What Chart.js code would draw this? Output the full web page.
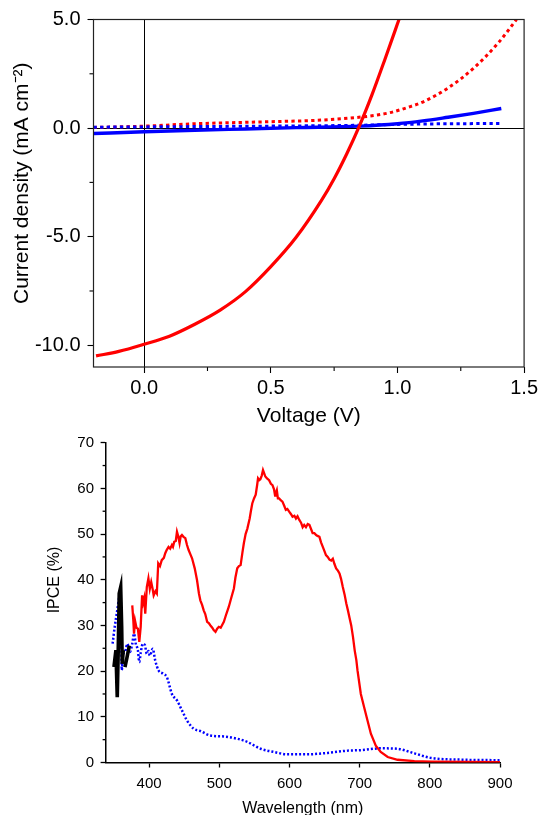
<!DOCTYPE html>
<html><head><meta charset="utf-8">
<script src="https://cdn.jsdelivr.net/npm/chart.js@4.4.1/dist/chart.umd.min.js"></script>
<style>
html,body{margin:0;padding:0;background:#fff;overflow:hidden;width:541px;height:815px;}
canvas{position:absolute;left:0;}
#jv{top:0;}
#ipce{top:425px;}
</style></head><body>
<canvas id="jv" width="541" height="440"></canvas>
<canvas id="ipce" width="541" height="410"></canvas>
<script>
const FONT = "'Liberation Sans', Arial, Helvetica, sans-serif";

// ---------- J-V curves (Voltage in V, current density in mA cm^-2) ----------
const jvRedSolidV = [-0.19, -0.1, 0, 0.1, 0.2, 0.3, 0.4, 0.5, 0.6, 0.7, 0.75, 0.8, 0.85, 0.9, 0.95, 1.0, 1.006];
const jvRedSolidJ = [-10.49, -10.28, -9.95, -9.58, -9.03, -8.38, -7.53, -6.38, -5.03, -3.33, -2.33, -1.18, 0.1, 1.55, 3.15, 4.8, 5.0];
const jvRedDotV = [-0.2, 0, 0.2, 0.45, 0.7, 0.84, 0.92, 0.97, 1.04, 1.1, 1.2, 1.3, 1.4, 1.47];
const jvRedDotJ = [0.03, 0.09, 0.2, 0.28, 0.37, 0.49, 0.6, 0.71, 0.95, 1.2, 1.85, 2.75, 3.95, 5.0];
const jvBlueSolidV = [-0.2, 0, 0.2, 0.4, 0.6, 0.85, 1.0, 1.1, 1.2, 1.3, 1.41];
const jvBlueSolidJ = [-0.25, -0.17, -0.1, -0.04, 0.02, 0.09, 0.2, 0.33, 0.5, 0.68, 0.9];
const jvBlueDotV = [-0.2, 0.2, 0.6, 0.85, 1.0, 1.2, 1.41];
const jvBlueDotJ = [0.04, 0.07, 0.1, 0.13, 0.17, 0.2, 0.21];

const jvXTicks = [0, 0.5, 1.0, 1.5];
const jvXMinor = [0.25, 0.75, 1.25];
const jvYTicks = [-10, -5, 0, 5];
const jvYMinor = [-7.5, -2.5, 2.5];

// ---------- IPCE spectra (wavelength nm, IPCE %) ----------
const ipceRedNm = [376,377.5,378.5,380,382,384,386,388,390,391.5,393,394.5,396.7,399,401,403,405,406.5,409,411,413,415.5,418,421,423,425,427.7,430,432.5,434,435.8,438,439.7,441.5,443.4,445,446.8,449,451.6,454,456.3,459,461.2,465,468.3,471,473,475.5,477.8,480,482.7,485,487.4,490,492,494.6,497,499.3,502,506.5,510,513.6,517,520.8,523,525.6,528,530.4,533,535,537.5,540,543.3,545,547,549.5,551.9,554,555.2,557,558.5,560.5,562.3,564,565.6,568,571,573.5,575.8,578,579.5,580.5,582,583.5,585.3,587.5,590,592.5,594.8,597,599.6,602,604.4,607,609.2,611.5,614,616.5,618.8,621,623.5,626,628.4,631,633,635.5,638,640,642.7,645,647.5,650,652,654.5,657,659.5,661.8,664,666.5,669,671.3,673.5,676,678.5,681,683.3,685.8,688,690.5,693,695.3,697,701.7,706.4,711.2,716,723,730,740,754,778,802,850,900];
const ipceRedVal = [34.4,31.1,28.2,31,29.5,29.3,26.4,29.7,36.6,35,36,32.6,38.4,40.3,38,39.5,38,36.6,37.5,37,43.6,43,44.3,44.8,45.8,46.5,47.2,46.8,47.6,47.2,48.3,48.5,50.5,49.5,48,49.5,49.8,49.4,49.1,47.6,46.5,45.5,44.7,42.5,39.9,37,35.5,34.5,33.3,32.5,30.8,30.5,30,29.5,29,28.6,29.3,29.7,29.5,30.8,32.5,34.1,36,38.1,40.5,42.5,43,43.2,46,48,50,51.2,53.4,55,56.7,57.8,58.6,60.8,62.2,61.8,62,62.8,64,63.3,62.6,62.2,61.8,61,60.7,59.8,58.4,58.9,59.6,57.8,57.8,57.4,57.1,56.2,55.3,55.5,54.9,54.4,53.8,54,53.4,53.9,53.1,52.5,51.5,52,51.5,52.2,52,51,50.2,50.2,49.8,49.6,49.4,48.2,47.2,46.2,45.4,45,44.4,44.2,44.6,43.5,42.5,42,41.4,40.2,38.4,36.8,34.8,33.3,31.5,30,27.5,24.5,22.4,20.1,15,12.1,9.2,6.3,3.7,2.3,1.2,0.6,0.3,0.2,0.15,0.1];

const ipceBlueNm = [348,351,354.6,357.5,359,360,361,363,365,367,369,371,372.8,376,378.5,381,384,386,388,391,394,396.7,399,401,405.3,408.6,413.3,420.5,425.3,432.5,439.7,446.8,454,463.5,473,487.4,506.5,525.6,540,559,578,597,626,654.6,683.3,701.5,730,754,778,802,850,900];
const ipceBlueVal = [26,29.7,33.3,36.3,37,33,20.2,23.8,24,24.9,26,25,24.2,26,28.2,26,24.6,22,24,26,25.7,23.8,24.4,23.4,24.9,22.4,20.2,19.4,18.7,15,13.6,11.4,9.2,7.4,6.9,5.9,5.7,5.2,4.5,3.0,2.3,1.8,1.8,2.1,2.6,2.7,3.1,3.0,2.0,1.0,0.6,0.5];

const ipceBlackNm = [349.9,352.7,354.6,356,357.4,359.5,360.9,361.7,363.2,364.4,365.6,368.5,371.8];
const ipceBlackVal = [20.9,24.6,14.3,24.6,37,38.4,29.7,21.6,24.6,null,20.9,23,25.6];

const ipceXTicks = [400, 500, 600, 700, 800, 900];
const ipceYTicks = [0, 10, 20, 30, 40, 50, 60, 70];
const ipceYMinor = [5, 15, 25, 35, 45, 55, 65];

// ---------- helpers ----------
const pts = (xs, ys) => xs.map((x, i) => ({x: x, y: ys[i]}));
const setTicks = arr => (s => { s.ticks = arr.map(v => ({value: v})); });

const minorTicks = {
  id: 'minorTicks',
  afterDraw(chart, args, opts) {
    const ctx = chart.ctx, ca = chart.chartArea;
    ctx.save();
    ctx.strokeStyle = '#000';
    ctx.lineWidth = opts.width || 1;
    (opts.list || []).forEach(m => {
      const s = chart.scales[m.scale];
      m.values.forEach(v => {
        const p = s.getPixelForValue(v);
        ctx.beginPath();
        if (s.isHorizontal()) { ctx.moveTo(p, ca.bottom); ctx.lineTo(p, ca.bottom + m.len); }
        else { ctx.moveTo(ca.left, p); ctx.lineTo(ca.left - m.len, p); }
        ctx.stroke();
      });
    });
    ctx.restore();
  }
};

const frameBox = {
  id: 'frameBox',
  afterDraw(chart, args, opts) {
    if (!opts.show) return;
    const ctx = chart.ctx, ca = chart.chartArea;
    ctx.save();
    ctx.strokeStyle = opts.color || '#333';
    ctx.lineWidth = opts.width || 1.2;
    ctx.strokeRect(ca.left, ca.top, ca.right - ca.left, ca.bottom - ca.top);
    ctx.restore();
  }
};

const sideTitle = {
  id: 'sideTitle',
  afterDraw(chart, args, opts) {
    if (!opts.text) return;
    const ctx = chart.ctx, ca = chart.chartArea;
    ctx.save();
    ctx.font = opts.size + 'px ' + FONT;
    ctx.fillStyle = '#000';
    ctx.textAlign = 'center';
    ctx.textBaseline = 'middle';
    ctx.translate(ca.left - opts.dx, (ca.top + ca.bottom) / 2 + opts.dy);
    ctx.rotate(-Math.PI / 2);
    ctx.fillText(opts.text, 0, 0);
    ctx.restore();
  }
};

Chart.register(minorTicks, frameBox, sideTitle);

const zeroGrid = c => (c.tick && c.tick.value === 0) ? '#000' : 'rgba(0,0,0,0)';

// ---------- J-V chart ----------
new Chart(document.getElementById('jv'), {
  type: 'line',
  data: {
    datasets: [
      {data: pts(jvRedSolidV, jvRedSolidJ), borderColor: '#ff0000', borderWidth: 3.2, cubicInterpolationMode: 'monotone'},
      {data: pts(jvBlueSolidV, jvBlueSolidJ), borderColor: '#0000ff', borderWidth: 3.4, cubicInterpolationMode: 'monotone'},
      {data: pts(jvBlueDotV, jvBlueDotJ), borderColor: '#0000ff', borderWidth: 3, borderDash: [3.3, 3.3], cubicInterpolationMode: 'monotone'},
      {data: pts(jvRedDotV, jvRedDotJ), borderColor: '#ff0000', borderWidth: 3, borderDash: [3.3, 3.3], cubicInterpolationMode: 'monotone'}
    ]
  },
  options: {
    responsive: false, animation: false, devicePixelRatio: 1,
    layout: {padding: {top: 19.5, right: 16, left: 0, bottom: 0}},
    elements: {point: {radius: 0}, line: {borderCapStyle: 'butt'}},
    plugins: {
      legend: {display: false}, tooltip: {enabled: false},
      frameBox: {show: true, color: '#222', width: 1.2},
      minorTicks: {width: 1.1, list: [{scale: 'x', values: jvXMinor, len: 4}, {scale: 'y', values: jvYMinor, len: 4}]},
      sideTitle: {text: 'Current density (mA cm\u207B\u00B2)', size: 21, dx: 70.9, dy: -10}
    },
    scales: {
      x: {
        type: 'linear', min: -0.2, max: 1.5,
        afterBuildTicks: setTicks(jvXTicks),
        afterFit: s => { s.height = 73; },
        ticks: {callback: v => Number(v).toFixed(1), font: {family: FONT, size: 20}, color: '#000', padding: 3, maxRotation: 0, autoSkip: false},
        grid: {color: zeroGrid, lineWidth: 1, tickColor: '#000', tickLength: 6, tickWidth: 1.1},
        border: {display: false},
        title: {display: true, text: 'Voltage (V)', font: {family: FONT, size: 21}, color: '#000', padding: {top: 0, bottom: 11.5}}
      },
      y: {
        type: 'linear', min: -11, max: 5,
        afterBuildTicks: setTicks(jvYTicks),
        afterFit: s => { s.width = 93.5; },
        ticks: {callback: v => Number(v).toFixed(1), font: {family: FONT, size: 20}, color: '#000', padding: 7, autoSkip: false},
        grid: {color: zeroGrid, lineWidth: 1, tickColor: '#000', tickLength: 6, tickWidth: 1.1},
        border: {display: false},
        title: {display: false}
      }
    }
  }
});

// ---------- IPCE chart ----------
new Chart(document.getElementById('ipce'), {
  type: 'line',
  data: {
    datasets: [
      {data: pts(ipceBlackNm, ipceBlackVal), borderColor: '#000000', borderWidth: 3.6, spanGaps: false},
      {data: pts(ipceRedNm, ipceRedVal), borderColor: '#ff0000', borderWidth: 2.3},
      {data: pts(ipceBlueNm, ipceBlueVal), borderColor: '#0000ff', borderWidth: 2.5, borderDash: [2, 2], cubicInterpolationMode: 'monotone'}
    ]
  },
  options: {
    responsive: false, animation: false, devicePixelRatio: 1,
    layout: {padding: {top: 17.7, right: 41, left: 0, bottom: 0}},
    elements: {point: {radius: 0}, line: {borderCapStyle: 'butt', tension: 0}},
    plugins: {
      legend: {display: false}, tooltip: {enabled: false},
      frameBox: {show: false},
      minorTicks: {width: 1.3, list: [{scale: 'y', values: ipceYMinor, len: 3}]},
      sideTitle: {text: 'IPCE (%)', size: 16, dx: 50.6, dy: -22.6}
    },
    scales: {
      x: {
        type: 'linear', min: 338, max: 900,
        afterBuildTicks: setTicks(ipceXTicks),
        afterFit: s => { s.height = 72.5; },
        ticks: {callback: v => String(v), font: {family: FONT, size: 15}, color: '#000', padding: 7, maxRotation: 0, autoSkip: false},
        grid: {drawOnChartArea: false, tickColor: '#000', tickLength: 5, tickWidth: 1.3},
        border: {display: true, color: '#000', width: 1.5},
        title: {display: true, text: 'Wavelength (nm)', font: {family: FONT, size: 16}, color: '#000', padding: {top: 0, bottom: 16.4}}
      },
      y: {
        type: 'linear', min: 0, max: 70,
        afterBuildTicks: setTicks(ipceYTicks),
        afterFit: s => { s.width = 105.6; },
        ticks: {callback: v => String(v), font: {family: FONT, size: 15}, color: '#000', padding: 6.6, autoSkip: false},
        grid: {drawOnChartArea: false, tickColor: '#000', tickLength: 5, tickWidth: 1.3},
        border: {display: true, color: '#000', width: 1.5},
        title: {display: false}
      }
    }
  }
});
</script>
</body></html>
